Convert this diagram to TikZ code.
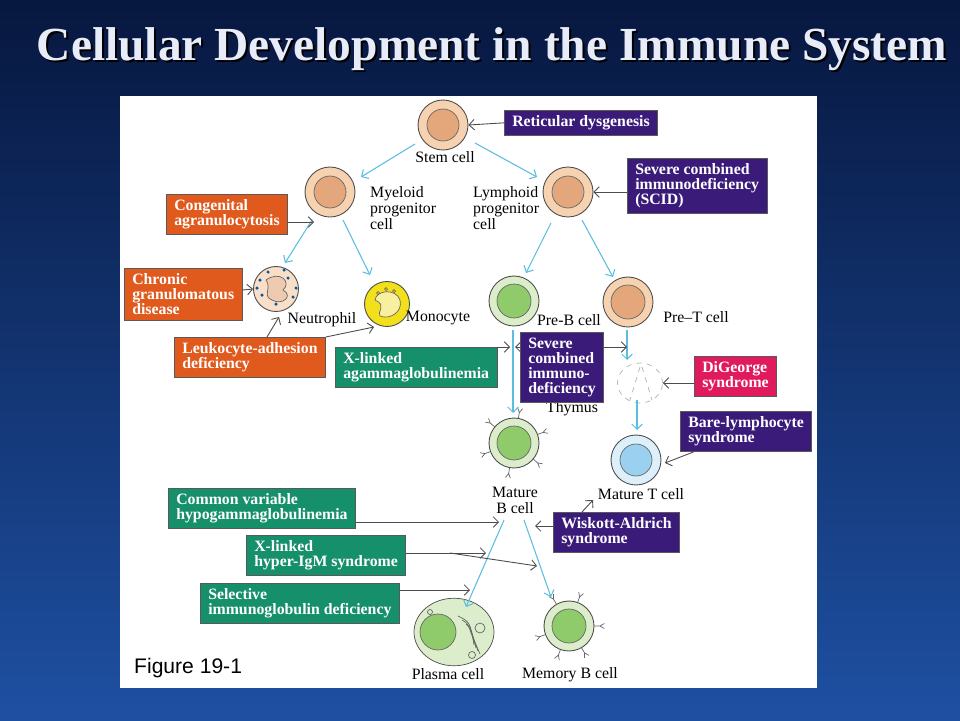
\documentclass[tikz,border=0pt]{standalone}
\usepackage{fontspec}
\setmainfont{Liberation Serif}
\newfontfamily\figsans{Liberation Sans}
\usetikzlibrary{arrows.meta,shapes.geometric,calc}
\definecolor{bgtop}{HTML}{07173F}
\definecolor{bgbot}{HTML}{1E50A2}
\definecolor{purp}{HTML}{3A1B7A}
\definecolor{oran}{HTML}{E05A1E}
\definecolor{gree}{HTML}{16906A}
\definecolor{mage}{HTML}{E01A5C}
\definecolor{peach}{HTML}{F6D2B0}
\definecolor{peachn}{HTML}{E3A77B}
\definecolor{lgreen}{HTML}{DCEDCB}
\definecolor{greenn}{HTML}{8FCB6A}
\definecolor{lblue}{HTML}{DDF0FA}
\definecolor{bluen}{HTML}{9CD0F0}
\definecolor{yel}{HTML}{F2E01A}
\definecolor{yeln}{HTML}{F8F0A0}
\definecolor{devarrow}{HTML}{5BBDE0}
\definecolor{titlec}{HTML}{E8ECF8}
\tikzset{
  dis/.style={draw=gray!70!black,line width=0.4pt,text=white,font=\fontsize{9}{8.6}\selectfont\bfseries,align=left,inner xsep=4.5pt,inner ysep=3pt,anchor=north west},
  purpbox/.style={dis,fill=purp},
  oranbox/.style={dis,fill=oran},
  greebox/.style={dis,fill=gree},
  magebox/.style={dis,fill=mage},
  lab/.style={font=\fontsize{9}{9.2}\selectfont,align=left,text=black},
  dev/.style={draw=devarrow,line width=0.6pt,-{Straight Barb[length=3pt]}},
  blk/.style={draw=black!70,line width=0.5pt,-{Straight Barb[length=3pt]}},
  cellc/.style={circle,draw=black!70,line width=0.5pt,inner sep=0pt},
}
\newcommand{\ygl}[3]{\draw[black!60,line width=0.4pt] ($(#1)+(#2:0.5cm)$) -- ($(#1)+(#2:0.62cm)$) -- +(#2+30:0.1cm) ($(#1)+(#2:0.62cm)$) -- +(#2-30:0.1cm);}
\begin{document}
\begin{tikzpicture}[x=0.02cm,y=-0.02cm]
\shade[top color=bgtop,bottom color=bgbot] (0,0) rectangle (960,720);
\useasboundingbox (0,0) rectangle (960,720);
\node[font=\fontsize{27}{30}\selectfont\bfseries,text=black] at (494,51) {Cellular Development in the Immune System};
\node[font=\fontsize{27}{30}\selectfont\bfseries,text=titlec] (title) at (492,49) {Cellular Development in the Immune System};
\fill[white] (120,96) rectangle (817,688);
\node[font=\figsans\fontsize{12}{14}\selectfont,anchor=west] (fig) at (128,668) {Figure 19-1};

% cells
\node[cellc,fill=peach,minimum size=1.0cm] (stem) at (443,125) {};
\fill[peachn,draw=black!60] (stem) circle (0.32cm);
\node[lab] at (445,157) {Stem cell};
\node[cellc,fill=peach,minimum size=1.0cm] (mye) at (330,192) {};
\fill[peachn,draw=black!60] (mye) circle (0.32cm);
\node[lab,anchor=west] at (364,208) {Myeloid\\progenitor\\cell};
\node[cellc,fill=peach,minimum size=1.0cm] (lym) at (568,192) {};
\fill[peachn,draw=black!60] (lym) circle (0.32cm);
\node[lab,anchor=west] at (467,208) {Lymphoid\\progenitor\\cell};
\node[cellc,fill=peach!70,minimum size=0.9cm] (neu) at (276,289) {};
\draw[black!60,fill=peachn!60] (266,280) .. controls (280,270) and (292,282) .. (283,290) .. controls (294,296) and (282,306) .. (272,300) .. controls (262,296) and (272,288) .. (266,280);
\foreach \p in {(260,280),(262,295),(288,278),(293,297),(276,304),(268,272),(284,270),(257,288),(296,288)} \fill[teal!70!blue] \p circle (0.035cm);
\node[lab] at (322,320) {Neutrophil};
\node[cellc,fill=yel,minimum size=0.9cm] (mono) at (387,304) {};
\draw[black!60,fill=yeln] (375,300) .. controls (376,290) and (396,288) .. (400,300) .. controls (403,312) and (390,320) .. (380,316) .. controls (376,312) and (388,306) .. (375,300);
\foreach \p in {(378,293),(386,289),(394,291)} \draw[black!60] \p circle (0.03cm);
\node[lab] at (438,318) {Monocyte};
\node[cellc,fill=lgreen,minimum size=1.0cm] (preb) at (514,301) {};
\fill[greenn,draw=black!60] (preb) circle (0.34cm);
\node[lab] at (569,320) {Pre-B cell};
\node[cellc,fill=peach,minimum size=1.0cm] (pret) at (628,302) {};
\fill[peachn,draw=black!60] (pret) circle (0.34cm);
\node[lab] at (696,317) {Pre--T cell};
\node[draw=gray!60,dashed,ellipse,minimum width=0.9cm,minimum height=0.8cm] (thy) at (640,383) {};
\draw[gray!60,dashed] (640,367) -- (630,400) (642,367) -- (652,400);
\node[lab] at (572,409) {Thymus};
\node[cellc,fill=lgreen,minimum size=1.0cm] (matb) at (514,443) {};
\fill[greenn,draw=black!60] (matb) circle (0.34cm);
\foreach \a in {20,80,140,200,260,320} {\ygl{matb}{\a}{}}
\node[lab,align=center] at (515,500) {Mature\\B cell};
\node[cellc,fill=lblue,minimum size=1.0cm] (matt) at (636,460) {};
\fill[bluen,draw=black!60] (matt) circle (0.32cm);
\node[lab] at (641,494) {Mature T cell};
\node[draw=black!70,fill=lgreen,ellipse,minimum width=1.6cm,minimum height=1.35cm] (plas) at (454,632) {};
\fill[greenn,draw=black!60] (438,632) circle (0.36cm);
\foreach \k in {0,1,2,3} \draw[black!60] (458+4*\k,616+4*\k) .. controls (470,622+3*\k) .. (474+2*\k,645+3*\k);
\draw[black!60] (480,628) circle (0.1cm) (472,655) circle (0.07cm) (430,612) circle (0.05cm);
\node[lab] at (448,674) {Plasma cell};
\node[cellc,fill=lgreen,minimum size=1.0cm] (memb) at (569,626) {};
\fill[greenn,draw=black!60] (memb) circle (0.34cm);
\foreach \a in {0,70,120,200,250,300} {\ygl{memb}{\a}{}}
\node[lab] at (570,675) {Memory B cell};

% disease boxes
\node[purpbox] (ret) at (504,110) {Reticular dysgenesis};
\node[purpbox] (scid) at (627,158) {Severe combined\\immunodeficiency\\(SCID)};
\node[oranbox] (cong) at (166,194) {Congenital\\agranulocytosis};
\node[oranbox] (cgd) at (124,268) {Chronic\\granulomatous\\disease};
\node[oranbox] (lad) at (174,337) {Leukocyte-adhesion\\deficiency};
\node[greebox] (xla) at (335,347) {X-linked\\agammaglobulinemia};
\node[purpbox] (scid2) at (520,332) {Severe\\combined\\immuno-\\deficiency};
\node[magebox] (dig) at (694,356) {DiGeorge\\syndrome};
\node[purpbox] (bare) at (680,411) {Bare-lymphocyte\\syndrome};
\node[greebox] (cvh) at (168,488) {Common variable\\hypogammaglobulinemia};
\node[purpbox] (wis) at (553,512) {Wiskott-Aldrich\\syndrome};
\node[greebox] (him) at (246,535) {X-linked\\hyper-IgM syndrome};
\node[greebox] (sel) at (200,583) {Selective\\immunoglobulin deficiency};

% development arrows
\coordinate (s1) at (415,144); \coordinate (m1) at (361,177);
\draw[dev] (s1) -- (m1);
\coordinate (s2) at (475,143); \coordinate (l1) at (537,177);
\draw[dev] (s2) -- (l1);
\draw[dev] (312,220) coordinate (ma) -- (285,263) coordinate (ne);
\draw[dev] (343,220) coordinate (mb) -- (370,275) coordinate (mo);
\draw[dev] (551,223) coordinate (la) -- (526,273) coordinate (pb);
\draw[dev] (582,220) coordinate (lb) -- (613,277) coordinate (pt);
\coordinate (pbs) at (513,330); \coordinate (mbt) at (513,413);
\draw[dev] (pbs) -- (mbt);
\coordinate (pts) at (627,330); \coordinate (thyt) at (627,360);
\draw[dev] (pts) -- (thyt);
\coordinate (thb) at (637,400); \coordinate (mtt) at (637,430);
\draw[dev] (thb) -- (mtt);
\coordinate (mb1) at (504,520); \coordinate (pl1) at (466,607);
\draw[dev] (mb1) -- (pl1);
\coordinate (mb2) at (524,520); \coordinate (me1) at (551,597);
\draw[dev] (mb2) -- (me1);

% disease arrows
\draw[blk] (ret.west) -- (stem.east);
\draw[blk] (scid.west |- lym) -- (lym.east);
\draw[blk] (cong.east |- 0,222) -- (314,222);
\draw[blk] (cgd.east |- 0,290) -- (neu.west);
\draw[blk] (267,337) -- (279,317);
\draw[blk] (lad.north east) -- (374,327);
\draw[blk] (xla.north east) -- (510,347);
\draw[blk] (scid2.west |- 0,347) -- (515,347);
\draw[blk] (scid2.east |- 0,347) -- (627,347);
\draw[blk] (dig.west |- thy) -- (thy.east);
\draw[blk] ($(bare.south west)+(14,0)$) -- (665,463);
\draw[blk] (cvh.east |- 0,522) -- (499,522);
\draw[blk] (wis.west |- 0,526) -- (535,526);
\draw[blk] (582,512) -- (593,500);
\draw[blk] (him.east |- 0,553) -- (486,553);
\draw[blk] (450,553) -- (537,566);
\draw[blk] (sel.east |- 0,590) -- (470,590);
\end{tikzpicture}
\end{document}
